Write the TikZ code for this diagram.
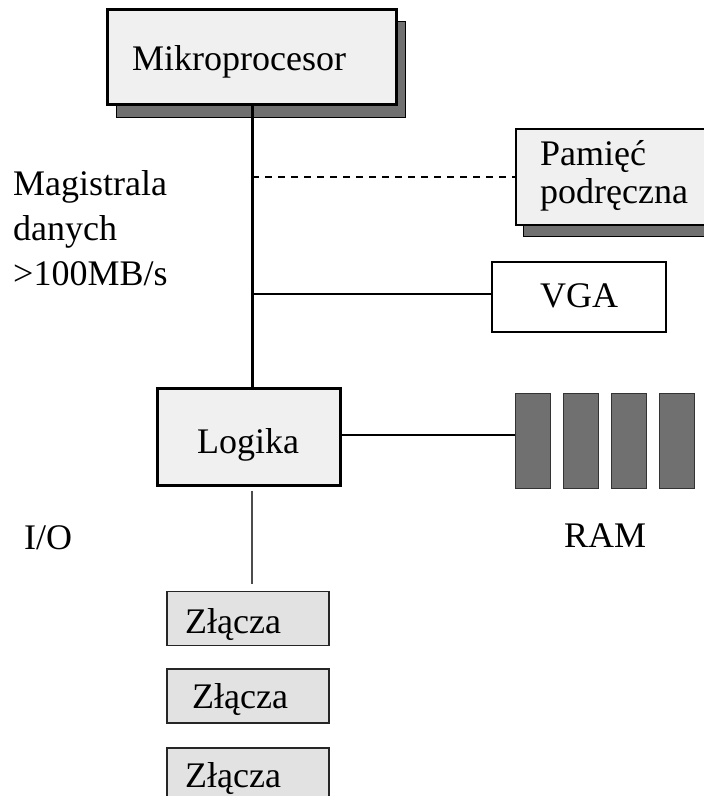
\documentclass[tikz,border=0pt]{standalone}
\usepackage{fontspec}
\setmainfont{Liberation Serif}
\begin{document}
\begin{tikzpicture}[x=1pt,y=-1pt,
  lbl/.style={inner sep=0pt, anchor=base west, font=\fontsize{36}{44}\selectfont},
  boxa/.style={draw=black, line width=3pt, fill=boxgray, inner sep=0pt},
  boxb/.style={draw=black, line width=1.5pt, fill=boxgray, inner sep=0pt},
  shade/.style={draw=black, line width=1pt, fill=shadegray},
  zbox/.style={draw=black!85, line width=1.5pt, fill=zgray, inner sep=0pt, minimum width=162pt, minimum height=54pt},
  rambar/.style={draw=black!80, line width=1pt, fill=shadegray, inner sep=0pt, minimum width=35pt, minimum height=95pt},
  buswire/.style={line width=3pt},
  thinwire/.style={line width=1.3pt}
]
\definecolor{boxgray}{HTML}{F0F0F0}
\definecolor{zgray}{HTML}{E2E2E2}
\definecolor{shadegray}{HTML}{707070}
\useasboundingbox (0,0) rectangle (704,796);
\clip (0,0) rectangle (704,796);
\fill[white] (0,0) rectangle (704,796);

% Mikroprocesor
\draw[shade] (116,21) rectangle (405,117);
\node[boxa, minimum width=289pt, minimum height=95pt] (mikro) at (251.5,56.5) {};
\node[lbl] (tmikro) at (132,70) {Mikroprocesor};

% Pamiec podreczna
\draw[shade] (523,140) rectangle (712,236);
\node[boxb, minimum width=190pt, minimum height=96pt] (cache) at (611,177) {};
\node[lbl] (tcache1) at (540,165) {Pamięć};
\node[lbl] (tcache2) at (540,203) {podręczna};

% VGA
\node[draw=black, line width=1.3pt, fill=white, inner sep=0pt, minimum width=174pt, minimum height=70pt] (vga) at (579,297) {};
\node[lbl] (tvga) at (540,307) {VGA};

% Logika
\node[boxa, minimum width=183pt, minimum height=97pt] (logika) at (248.5,436.5) {};
\node[lbl] (tlogika) at (197,453) {Logika};

% RAM
\node[rambar] (ram1) at (532.5,440.5) {};
\node[rambar] (ram2) at (580.5,440.5) {};
\node[rambar] (ram3) at (628.5,440.5) {};
\node[rambar] (ram4) at (676.5,440.5) {};
\node[lbl] (tram) at (564,547) {RAM};

% Zlacza
\node[zbox] (z1) at (248,618.5) {};
\node[lbl] (tz1) at (185,633) {Złącza};
\node[zbox] (z2) at (248,696) {};
\node[lbl] (tz2) at (192,708) {Złącza};
\node[zbox] (z3) at (248,775) {};
\node[lbl] (tz3) at (185,787) {Złącza};

% left labels
\node[lbl] (tmag1) at (13,195) {Magistrala};
\node[lbl] (tmag2) at (13,240) {danych};
\node[lbl] (tmag3) at (13,285) {>100MB/s};
\node[lbl] (tio) at (24,549) {I/O};

% connectors
\coordinate (busx) at (252,0);
\draw[buswire] (mikro.south -| busx) -- (logika.north -| busx);
\draw[thinwire, dash pattern=on 7pt off 6pt] (busx |- cache.west) -- (cache.west);
\draw[line width=2.5pt] ([yshift=3pt]vga.west -| busx) -- ([yshift=3pt]vga.west);
\draw[thinwire] ([yshift=1.5pt]logika.east) -- ([yshift=1.5pt]logika.east -| ram1.west);
\draw[line width=1.5pt, draw=black!70, shorten <=4pt, shorten >=7pt] (logika.south -| busx) -- (z1.north -| busx);
\end{tikzpicture}
\end{document}
